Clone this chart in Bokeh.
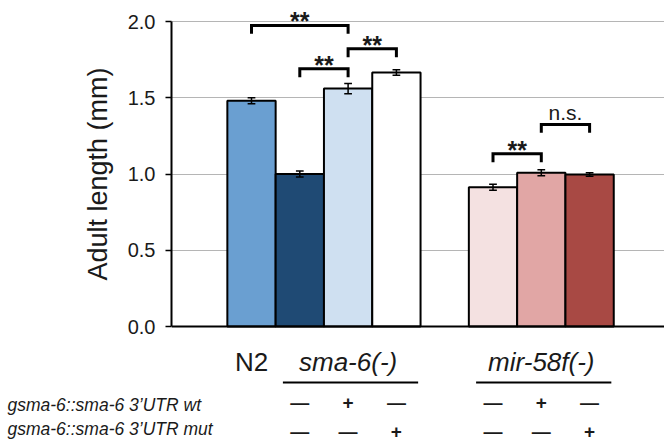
import numpy as np
from bokeh.plotting import figure
from bokeh.layouts import column
from bokeh.models import Range1d, FixedTicker, ColumnDataSource, Span, PrintfTickFormatter
from bokeh.core.properties import value
from bokeh.embed import file_html
from bokeh.resources import INLINE

# ---------------- data ----------------
strains = ["N2", "sma-6 -", "sma-6 wt", "sma-6 mut", "mir-58f -", "mir-58f wt", "mir-58f mut"]
lengths = [1.48, 1.00, 1.56, 1.665, 0.913, 1.008, 0.997]
errors = [0.02, 0.02, 0.033, 0.018, 0.02, 0.02, 0.012]
colors = ["#6a9fd1", "#1f4a74", "#cfe0f1", "#ffffff", "#f4e1e1", "#e1a6a5", "#a84944"]
row_wt = ["", "\u2014", "+", "\u2014", "\u2014", "+", "\u2014"]
row_mut = ["", "\u2014", "\u2014", "+", "\u2014", "\u2014", "+"]
row_names = ["gsma-6::sma-6 3\u2019UTR wt", "gsma-6::sma-6 3\u2019UTR mut"]
groups = [("N2", 0, 0, "normal"), ("sma-6(-)", 1, 3, "italic"), ("mir-58f(-)", 4, 6, "italic")]
# significance brackets: (bar i, bar j, height, label)
brackets = [(0, 2, 1.974, "**"), (2, 3, 1.821, "**"), (1, 2, 1.69, "**"),
            (4, 5, 1.132, "**"), (5, 6, 1.325, "n.s.")]
yticks = [0.0, 0.5, 1.0, 1.5, 2.0]

# ---------------- layout ----------------
W, H = 664, 444
H_TOP = 347              # height of the chart part; the rest holds the labels
FL = 171                 # frame left in px
PPU_X = 48.3             # px per bar
PPU_Y = 152.5            # px per mm
x_start = -(251 - FL) / PPU_X
x_end = x_start + (W - FL) / PPU_X
y_top = 2.0 + 21 / PPU_Y


def xpx(px):
    return x_start + (px - FL) / PPU_X


def ypx(py):
    return y_top - py / PPU_Y


FONT = value("Liberation Sans")
TXT = "#1a1a1a"
xs = [i + (1 if i >= 4 else 0) for i in range(len(lengths))]

p = figure(width=W, height=H_TOP, output_backend="svg", toolbar_location=None,
           x_range=Range1d(x_start, x_end), y_range=Range1d(ypx(H_TOP), y_top),
           min_border_left=FL, min_border_right=0, min_border_top=0, min_border_bottom=0)
p.frame_align = False
p.outline_line_color = None
p.xaxis.visible = False
p.xgrid.visible = False

ya = p.yaxis[0]
ya.ticker = FixedTicker(ticks=yticks)
ya.formatter = PrintfTickFormatter(format="%.1f")
ya.bounds = (0, 2.0)
ya.axis_line_width = 2
ya.axis_line_color = "black"
ya.major_tick_out = 6
ya.major_tick_in = 0
ya.major_tick_line_width = 1.5
ya.major_tick_line_color = "black"
ya.minor_tick_line_color = None
ya.major_label_text_font = "Liberation Sans"
ya.major_label_text_font_size = "20px"
ya.major_label_text_color = TXT
ya.major_label_standoff = 10
ya.axis_label = "Adult length (mm)"
ya.axis_label_text_font = "Liberation Sans"
ya.axis_label_text_font_size = "27px"
ya.axis_label_text_font_style = "normal"
ya.axis_label_text_color = TXT
ya.axis_label_standoff = 12

p.ygrid.ticker = FixedTicker(ticks=yticks[1:])
p.ygrid.grid_line_color = "#b5b5b5"
p.ygrid.grid_line_width = 1

src = ColumnDataSource(dict(x=xs, top=lengths, color=colors,
                            lo=[v - e for v, e in zip(lengths, errors)],
                            hi=[v + e for v, e in zip(lengths, errors)]))
p.vbar(x="x", top="top", bottom=0, width=1.0, source=src, fill_color="color",
       line_color="black", line_width=2)

# error bars
cap = 0.08
p.segment(x0="x", y0="lo", x1="x", y1="hi", source=src, line_color="black", line_width=1.5)
src_caps = ColumnDataSource(dict(
    x0=[x - cap for x in xs] * 2, x1=[x + cap for x in xs] * 2,
    y=list(src.data["lo"]) + list(src.data["hi"])))
p.segment(x0="x0", y0="y", x1="x1", y1="y", source=src_caps, line_color="black", line_width=1.5)

# baseline
p.add_layout(Span(location=0, dimension="width", line_color="black", line_width=2))

# brackets
drop = 0.055
bxs, bys, tx, ty, tl = [], [], [], [], []
for i, j, h, lab in brackets:
    xi, xj = xs[i], xs[j]
    bxs.append([xi, xi, xj, xj])
    bys.append([h - drop, h, h, h - drop])
    tx.append((xi + xj) / 2)
    ty.append(h)
    tl.append(lab)
p.multi_line(xs=bxs, ys=bys, line_color="black", line_width=3, line_join="miter")
star = [k for k in range(len(tl)) if tl[k] == "**"]
ns = [k for k in range(len(tl)) if tl[k] != "**"]
p.text(x=[tx[k] for k in star], y=[ty[k] for k in star], text=[tl[k] for k in star],
       text_align="center", text_baseline="alphabetic", y_offset=-4,
       text_font=FONT, text_font_size="25px", text_font_style="bold", text_color=TXT)
p.text(x=[tx[k] for k in ns], y=[ty[k] for k in ns], text=[tl[k] for k in ns],
       text_align="center", text_baseline="alphabetic", y_offset=-12,
       text_font=FONT, text_font_size="21px", text_color=TXT)

# ---------------- label strip (full width) ----------------
q = figure(width=W, height=H - H_TOP, output_backend="svg", toolbar_location=None,
           x_range=Range1d(xpx(0), xpx(W)), y_range=Range1d(ypx(H), ypx(H_TOP)),
           min_border_left=0, min_border_right=0, min_border_top=0, min_border_bottom=0)
q.frame_align = False
q.outline_line_color = None
q.axis.visible = False
q.grid.visible = False

# group labels and underlines
for name, a, b, style in groups:
    xc = (xs[a] + xs[b]) / 2
    q.text(x=[xc], y=[ypx(361)], text=[name], text_align="center", text_baseline="middle",
           text_font=FONT, text_font_size="26px", text_font_style=style, text_color=TXT)
    if a != b:
        q.segment(x0=[xs[a] - 0.35], y0=[ypx(382)], x1=[xs[b] + 0.45], y1=[ypx(382)],
                  line_color="black", line_width=2)

q.text(x=xs, y=[ypx(402)] * len(xs), text=row_wt, text_align="center", text_baseline="middle",
       text_font=FONT, text_font_size="19px", text_font_style="bold", text_color=TXT)
q.text(x=xs, y=[ypx(431)] * len(xs), text=row_mut, text_align="center", text_baseline="middle",
       text_font=FONT, text_font_size="19px", text_font_style="bold", text_color=TXT)
q.text(x=[xpx(7)] * 2, y=[ypx(404), ypx(428)], text=row_names, text_align="left",
       text_baseline="middle", text_font=FONT, text_font_size="17.5px",
       text_font_style="italic", text_color=TXT)

layout = column(p, q, spacing=0)
open("out.html", "w").write(file_html(layout, INLINE))
